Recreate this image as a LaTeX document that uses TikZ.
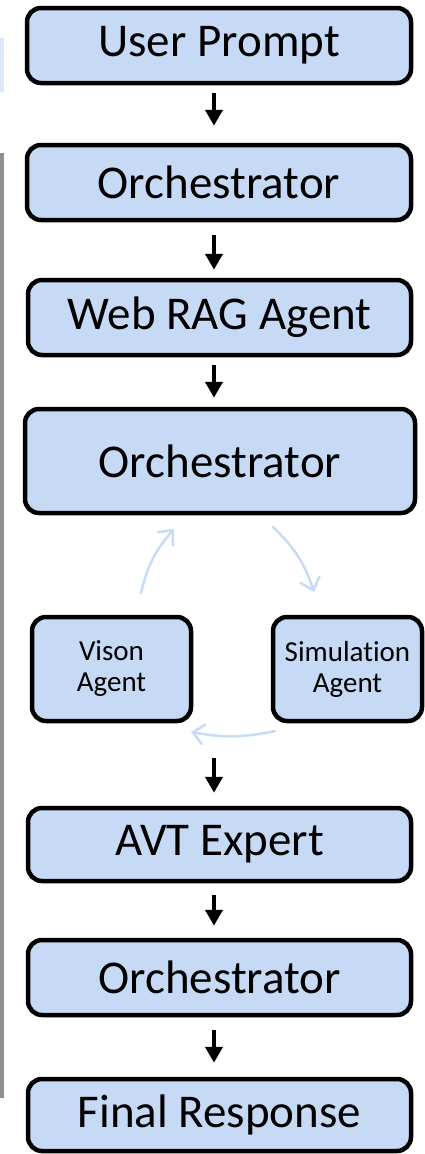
\documentclass[tikz,border=0pt]{standalone}
\usepackage{fontspec}
\setmainfont{Carlito}[Ligatures=NoCommon]
\usetikzlibrary{arrows.meta}
\definecolor{boxfill}{HTML}{C6DAF5}
\definecolor{loopblue}{HTML}{C8DBF6}
\definecolor{edgegray}{HTML}{8F8F8F}
\definecolor{edgeblue}{HTML}{DCE8FA}
\tikzset{
  bigbox/.style={draw=black, line width=4.5pt, fill=boxfill, rounded corners=14pt,
    inner sep=0pt, font=\fontsize{47}{56}\selectfont},
  smallbox/.style={draw=black, line width=4.5pt, fill=boxfill, rounded corners=14pt,
    inner sep=0pt, align=center, font=\fontsize{29}{31}\selectfont},
  downarrow/.style={draw=black, line width=4.5pt, -{Triangle[width=17pt,length=16pt]}},
  looparrow/.style={draw=loopblue, line width=2.5pt, line cap=round,
    -{Straight Barb[length=11pt,width=20pt,line cap=round]}}
}
\begin{document}
\begin{tikzpicture}[x=1pt,y=-1pt]
\useasboundingbox (0,0) rectangle (424,1154);
% cropped edge remnants
\fill[edgeblue] (0,38) rectangle (4,92);
\fill[edgegray] (0,153) rectangle (4,1098);
% boxes
\node[bigbox, minimum width=384pt, minimum height=75pt] (up) at (219,45.5) {User Prompt};
\node[bigbox, minimum width=384pt, minimum height=75pt] (orc1) at (219,182.5) {Orchestrator};
\node[bigbox, minimum width=383pt, minimum height=75pt] (web) at (219.5,317.5) {Web RAG Agent};
\node[bigbox, minimum width=390pt, minimum height=104pt] (orc2) at (220,461) {Orchestrator};
\node[smallbox, minimum width=159pt, minimum height=104pt] (vis) at (111.5,669) {Vison\\Agent};
\node[smallbox, minimum width=149pt, minimum height=104pt] (sim) at (347.5,669) {Simulation\\Agent};
\node[bigbox, minimum width=383pt, minimum height=73pt] (avt) at (219.5,844.5) {AVT Expert};
\node[bigbox, minimum width=383pt, minimum height=75pt] (orc3) at (219.5,977.5) {Orchestrator};
\node[bigbox, minimum width=383pt, minimum height=72pt] (fin) at (219.5,1115) {Final Response};
% loop arrows
\coordinate (a1s) at (141,593);
\coordinate (a1e) at (174,529);
\coordinate (a2s) at (273,527);
\coordinate (a2e) at (314,592);
\coordinate (a3s) at (275,731);
\coordinate (a3e) at (191,732);
\draw[looparrow] (a1s) to[bend left=14] (a1e);
\draw[looparrow] (a2s) to[bend left=14] (a2e);
\draw[looparrow] (a3s) to[bend left=11] (a3e);
% down arrows
\coordinate (loopout) at (214,758);
\draw[downarrow, shorten <=8pt, shorten >=17pt] ([xshift=-5pt]up.south) -- ([xshift=-5pt]orc1.north);
\draw[downarrow, shorten <=13pt, shorten >=8pt] ([xshift=-5pt]orc1.south) -- ([xshift=-5.5pt]web.north);
\draw[downarrow, shorten <=8pt, shorten >=9pt] ([xshift=-5.5pt]web.south) -- ([xshift=-6pt]orc2.north);
\draw[downarrow, shorten >=13pt] (loopout) -- (loopout |- avt.north);
\draw[downarrow, shorten <=12pt, shorten >=12pt] ([xshift=-5.5pt]avt.south) -- ([xshift=-5.5pt]orc3.north);
\draw[downarrow, shorten <=13pt, shorten >=14pt] ([xshift=-5.5pt]orc3.south) -- ([xshift=-5.5pt]fin.north);
\end{tikzpicture}
\end{document}
